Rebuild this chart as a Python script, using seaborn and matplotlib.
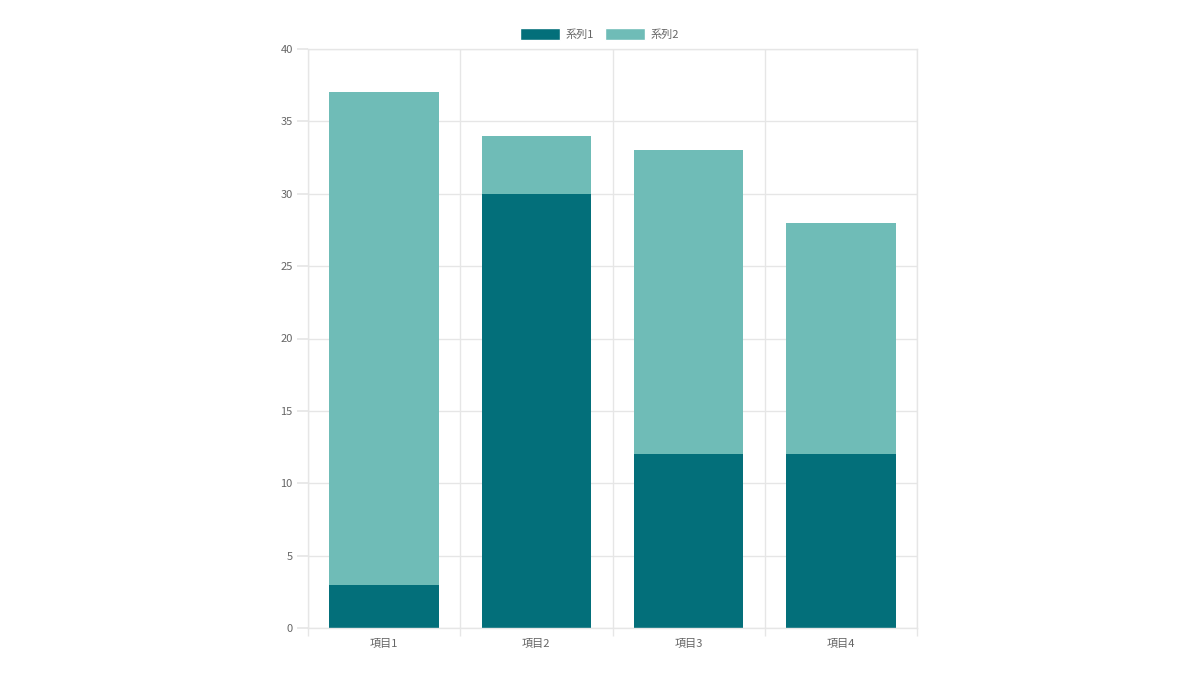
import pandas as pd
import numpy as np
import seaborn as sns
import matplotlib.pyplot as plt
from matplotlib.patches import Patch

# data
categories = ["項目1", "項目2", "項目3", "項目4"]
series1 = [3, 30, 12, 12]
series2 = [34, 4, 21, 16]
series_names = ["系列1", "系列2"]

c1 = "#036f7a"
c2 = "#6fbcb7"
grid_c = "#e6e6e6"
txt_c = "#666666"

sns.set_theme(style="white")
plt.rcParams['font.family'] = ['Noto Sans CJK JP', 'DejaVu Sans']

df = pd.DataFrame({"cat": categories, "s1": series1, "s2": series2})

fig = plt.figure(figsize=(12, 6.75), dpi=100)
ax = fig.add_axes([308 / 1200, 1 - 628 / 675, 609 / 1200, 579 / 675])

sns.barplot(data=df, x="cat", y="s1", color=c1, width=0.72, saturation=1,
            linewidth=0, ax=ax, zorder=2)
sns.barplot(data=df, x="cat", y="s2", bottom=df["s1"], color=c2, width=0.72, saturation=1,
            linewidth=0, ax=ax, zorder=2)

ax.set_xlim(-0.5, len(categories) - 0.5)
ax.set_ylim(0, 40)
ax.set_yticks(np.arange(0, 41, 5))
ax.set_xlabel("")
ax.set_ylabel("")

# grid like chart.js: vertical lines at category boundaries
ax.set_xticks(np.arange(-0.5, len(categories)), minor=True)
ax.grid(True, axis="y", which="major", color=grid_c, lw=1, zorder=0)
ax.grid(True, axis="x", which="minor", color=grid_c, lw=1, zorder=0)
ax.grid(False, axis="x", which="major")
ax.tick_params(axis="x", which="major", length=0, pad=8, labelsize=8, labelcolor=txt_c)
ax.tick_params(axis="x", which="minor", length=6, color=grid_c, bottom=True)
ax.tick_params(axis="y", length=8, color=grid_c, pad=3, labelsize=8, labelcolor=txt_c, left=True)
for sp in ax.spines.values():
    sp.set_color(grid_c)
    sp.set_linewidth(1)

handles = [Patch(facecolor=c1, label=series_names[0]), Patch(facecolor=c2, label=series_names[1])]
leg = fig.legend(handles=handles, loc="upper center", bbox_to_anchor=(0.5, 0.973), ncol=2,
                 frameon=False, fontsize=8, handlelength=3.6, handleheight=1.3,
                 handletextpad=0.5, columnspacing=1.0)
for t in leg.get_texts():
    t.set_color(txt_c)

fig.savefig("out.png", dpi=100)
